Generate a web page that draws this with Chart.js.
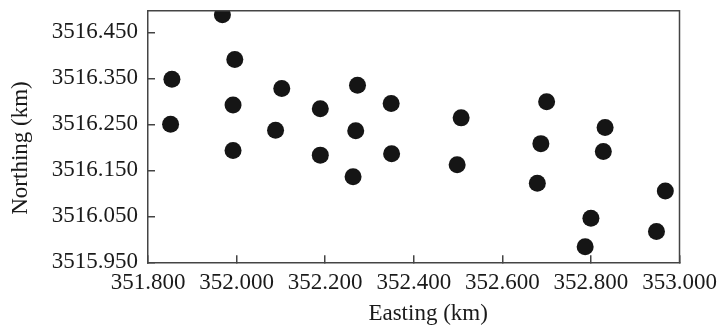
<!DOCTYPE html>
<html>
<head>
<meta charset="utf-8">
<title>Easting vs Northing</title>
<script src="https://cdn.jsdelivr.net/npm/chart.js@4.4.1/dist/chart.umd.min.js"></script>
<style>
  html, body { margin: 0; padding: 0; background: #fff; }
  #wrap { width: 718px; height: 329px; position: relative; }
</style>
</head>
<body>
<div id="wrap"><canvas id="scatter"></canvas></div>
<script>
// sample locations (km)
var easting = [351.968, 351.996, 351.854, 352.102, 351.992, 351.851, 352.088, 351.992,
               352.189, 352.273, 352.349, 352.269, 352.189, 352.350, 352.263,
               352.507, 352.498, 352.700, 352.687, 352.679,
               352.832, 352.828, 352.968, 352.800, 352.948, 352.787];
var northing = [3516.488, 3516.391, 3516.348, 3516.328, 3516.292, 3516.250, 3516.237, 3516.193,
                3516.284, 3516.335, 3516.295, 3516.236, 3516.183, 3516.186, 3516.136,
                3516.264, 3516.162, 3516.299, 3516.208, 3516.122,
                3516.243, 3516.191, 3516.105, 3516.046, 3516.017, 3515.984];
var xTicks = [351.8, 352.0, 352.2, 352.4, 352.6, 352.8, 353.0];
var yTicks = [3515.95, 3516.05, 3516.15, 3516.25, 3516.35, 3516.45];

var points = easting.map(function (x, i) { return { x: x, y: northing[i] }; });

var serif = { family: "'Liberation Serif', 'DejaVu Serif', serif", size: 23 };
var axisColor = '#444';
var textColor = '#1a1a1a';
var nb = '\u00a0'; // titles sit a bit off-centre in the original

// top and right sides of the box
var frame = {
    id: 'frame',
    afterDraw: function (chart) {
        var a = chart.chartArea, ctx = chart.ctx;
        ctx.save();
        ctx.strokeStyle = axisColor;
        ctx.lineWidth = 1.5;
        ctx.beginPath();
        ctx.moveTo(a.left, a.top);
        ctx.lineTo(a.right, a.top);
        ctx.lineTo(a.right, a.bottom);
        ctx.stroke();
        ctx.restore();
    }
};

new Chart(document.getElementById('scatter'), {
    type: 'scatter',
    data: {
        datasets: [{
            data: points,
            pointRadius: 8.5,
            pointHoverRadius: 8.5,
            pointBackgroundColor: '#151515',
            pointBorderColor: '#151515',
            pointBorderWidth: 0,
            clip: 0
        }]
    },
    options: {
        responsive: true,
        maintainAspectRatio: false,
        animation: false,
        layout: { padding: { top: 10.7, right: 38.5, left: 0, bottom: 0 } },
        plugins: { legend: { display: false }, tooltip: { enabled: false } },
        scales: {
            x: {
                type: 'linear',
                min: 351.8,
                max: 353.0,
                afterBuildTicks: function (scale) {
                    scale.ticks = xTicks.map(function (v) { return { value: v }; });
                },
                afterFit: function (scale) {
                    scale.height = 66.7;
                    scale.paddingLeft = 0;
                    scale.paddingRight = 0;
                },
                grid: { drawOnChartArea: false, tickLength: -7, color: axisColor, lineWidth: 1.5 },
                border: { color: axisColor, width: 1.5 },
                ticks: {
                    color: textColor,
                    font: serif,
                    padding: 14,
                    maxRotation: 0,
                    autoSkip: false,
                    callback: function (v) { return Number(v).toFixed(3); }
                },
                title: { display: true, text: nb.repeat(5) + 'Easting (km)', color: textColor, font: serif, padding: { top: 0, bottom: 1 } }
            },
            y: {
                type: 'linear',
                min: 3515.95,
                max: 3516.497,
                afterBuildTicks: function (scale) {
                    scale.ticks = yTicks.map(function (v) { return { value: v }; });
                },
                afterFit: function (scale) {
                    scale.width = 148;
                    scale.paddingTop = 0;
                    scale.paddingBottom = 0;
                },
                grid: { drawOnChartArea: false, tickLength: -7, color: axisColor, lineWidth: 1.5 },
                border: { color: axisColor, width: 1.5 },
                ticks: {
                    color: textColor,
                    font: serif,
                    padding: 17,
                    autoSkip: false,
                    callback: function (v) { return Number(v).toFixed(3); }
                },
                title: { display: true, text: 'Northing (km)' + nb.repeat(4), color: textColor, font: serif, padding: { top: 7, bottom: 0 } }
            }
        }
    },
    plugins: [frame]
});
</script>
</body>
</html>
